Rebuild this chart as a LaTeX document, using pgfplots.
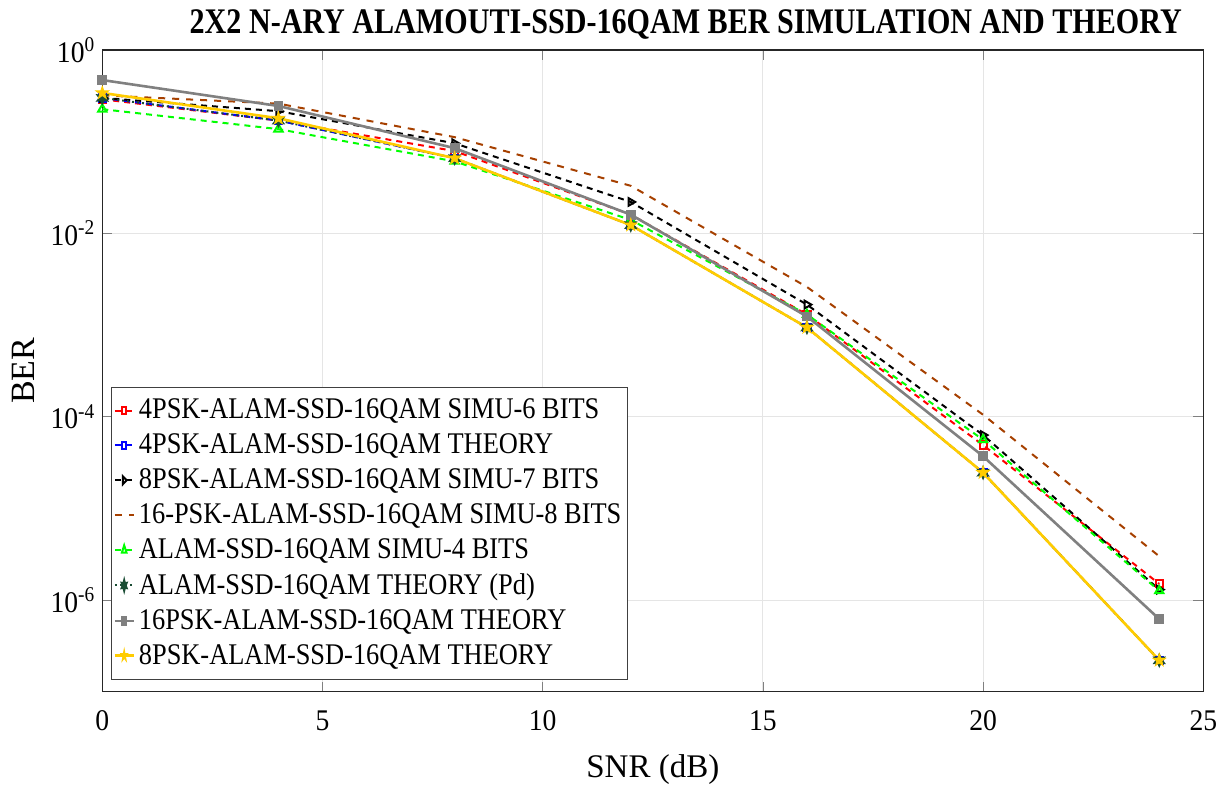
\documentclass[border=0pt]{standalone}
\usepackage{pgfplots}
\pgfplotsset{compat=1.18}
\usepackage{fontspec}
\setmainfont{Liberation Serif}
\newfontfamily\titlefont[FakeStretch=0.836]{Liberation Serif}
\newfontfamily\legfont[FakeStretch=0.88]{Liberation Serif}
\newfontfamily\tickfont[FakeStretch=0.92]{Liberation Serif}
\usetikzlibrary{plotmarks}
\definecolor{mbrown}{rgb}{0.65,0.25,0.0}
\definecolor{mgold}{rgb}{1.0,0.80,0.0}
\definecolor{mdkgreen}{rgb}{0.10,0.30,0.20}
\definecolor{mgray}{rgb}{0.50,0.50,0.50}
\pgfdeclareplotmark{fstar}{%
  \pgfpathmoveto{\pgfpointpolar{90}{1.3\pgfplotmarksize}}%
  \pgfpathlineto{\pgfpointpolar{126}{0.5\pgfplotmarksize}}%
  \pgfpathlineto{\pgfpointpolar{162}{1.3\pgfplotmarksize}}%
  \pgfpathlineto{\pgfpointpolar{198}{0.5\pgfplotmarksize}}%
  \pgfpathlineto{\pgfpointpolar{234}{1.3\pgfplotmarksize}}%
  \pgfpathlineto{\pgfpointpolar{270}{0.5\pgfplotmarksize}}%
  \pgfpathlineto{\pgfpointpolar{306}{1.3\pgfplotmarksize}}%
  \pgfpathlineto{\pgfpointpolar{342}{0.5\pgfplotmarksize}}%
  \pgfpathlineto{\pgfpointpolar{18}{1.3\pgfplotmarksize}}%
  \pgfpathlineto{\pgfpointpolar{54}{0.5\pgfplotmarksize}}%
  \pgfpathclose\pgfusepathqfillstroke}
\pgfdeclareplotmark{hexa}{%
  \pgfpathmoveto{\pgfpointpolar{90}{1.2\pgfplotmarksize}}%
  \pgfpathlineto{\pgfpointpolar{120}{0.6\pgfplotmarksize}}%
  \pgfpathlineto{\pgfpointpolar{150}{1.2\pgfplotmarksize}}%
  \pgfpathlineto{\pgfpointpolar{180}{0.6\pgfplotmarksize}}%
  \pgfpathlineto{\pgfpointpolar{210}{1.2\pgfplotmarksize}}%
  \pgfpathlineto{\pgfpointpolar{240}{0.6\pgfplotmarksize}}%
  \pgfpathlineto{\pgfpointpolar{270}{1.2\pgfplotmarksize}}%
  \pgfpathlineto{\pgfpointpolar{300}{0.6\pgfplotmarksize}}%
  \pgfpathlineto{\pgfpointpolar{330}{1.2\pgfplotmarksize}}%
  \pgfpathlineto{\pgfpointpolar{0}{0.6\pgfplotmarksize}}%
  \pgfpathlineto{\pgfpointpolar{30}{1.2\pgfplotmarksize}}%
  \pgfpathlineto{\pgfpointpolar{60}{0.6\pgfplotmarksize}}%
  \pgfpathclose\pgfusepathqfillstroke}
\begin{document}
\begin{tikzpicture}
\begin{semilogyaxis}[
  name=ax, at={(0,0)}, anchor=south west,
  scale only axis,
  width=550.5pt, height=320.85pt,
  xmin=0, xmax=25, ymin=1e-7, ymax=1,
  xtick={0,5,10,15,20,25},
  ytick={1,1e-2,1e-4,1e-6},
  yticklabels={10\textsuperscript{0},10\textsuperscript{-2},10\textsuperscript{-4},10\textsuperscript{-6}},
  minor ytick={},
  /pgf/number format/assume math mode=true,
  tick label style={font=\tickfont\fontsize{15}{17}\selectfont},
  xticklabel style={yshift=-6pt},
  tick align=inside,
  major tick length=5pt,
  grid=major,
  major grid style={gray!20, line width=0.5pt},
  axis line style={black!85, line width=0.6pt},
  title={\titlefont\fontsize{18}{20}\selectfont\bfseries 2X2 N-ARY ALAMOUTI-SSD-16QAM BER SIMULATION AND THEORY},
  title style={yshift=-4pt, xshift=16.5pt},
  xlabel={SNR (dB)},
  ylabel={BER},
  xlabel style={font=\fontsize{16.5}{18}\selectfont, yshift=-5pt},
  ylabel style={font=\fontsize{17}{18}\selectfont, yshift=1pt},
  legend cell align=left,
  legend style={at={(0.0079,0.0187)}, anchor=south west, draw=black!75, line width=0.5pt,
    font=\legfont\fontsize{15}{18}\selectfont, row sep=2pt, inner xsep=1pt, inner ysep=4pt},
  legend image post style={xscale=0.55},
]
\addplot[red, line width=1pt, dash pattern=on 3pt off 2.5pt, mark=square, mark size=1.8pt, mark options={solid}] coordinates {
(0,0.29) (4,0.17) (8,0.079) (12,0.016) (16,1.3e-3) (20,4.9e-5) (24,1.5e-6)};
\addlegendentry{4PSK-ALAM-SSD-16QAM SIMU-6 BITS}
\addplot[blue, line width=1pt, dash pattern=on 3pt off 2.5pt, mark=square, mark size=1.8pt, mark options={solid}] coordinates {
(0,0.30) (4,0.17) (8,0.066) (12,0.0123) (16,9.4e-4) (20,2.45e-5) (24,2.2e-7)};
\addlegendentry{4PSK-ALAM-SSD-16QAM THEORY}
\addplot[black, line width=1pt, dash pattern=on 3pt off 2.5pt, mark=triangle, mark size=2.2pt, mark options={solid, rotate=-90}] coordinates {
(0,0.30) (4,0.215) (8,0.096) (12,0.022) (16,1.67e-3) (20,6.3e-5) (24,1.3e-6)};
\addlegendentry{8PSK-ALAM-SSD-16QAM SIMU-7 BITS}
\addplot[mbrown, line width=1pt, dash pattern=on 3.5pt off 3.5pt] coordinates {
(0,0.32) (4,0.26) (8,0.112) (12,0.033) (16,2.6e-3) (20,1.05e-4) (24,3.0e-6)};
\addlegendentry{16-PSK-ALAM-SSD-16QAM SIMU-8 BITS}
\addplot[green, line width=1pt, dash pattern=on 3pt off 2.5pt, mark=triangle, mark size=2.4pt, mark options={solid}] coordinates {
(0,0.226) (4,0.137) (8,0.061) (12,0.014) (16,1.3e-3) (20,5.6e-5) (24,1.26e-6)};
\addlegendentry{ALAM-SSD-16QAM SIMU-4 BITS}
\addplot[mdkgreen, line width=1pt, dash pattern=on 1pt off 1.5pt, mark=hexa, mark size=2.2pt, mark options={solid, fill=mdkgreen}] coordinates {
(0,0.30) (4,0.17) (8,0.066) (12,0.0123) (16,9.4e-4) (20,2.45e-5) (24,2.2e-7)};
\addlegendentry{ALAM-SSD-16QAM THEORY (Pd)}
\addplot[mgray, line width=1.3pt, mark=square*, mark size=1.8pt, mark options={fill=mgray}] coordinates {
(0,0.47) (4,0.245) (8,0.085) (12,0.016) (16,1.24e-3) (20,3.7e-5) (24,6.2e-7)};
\addlegendentry{16PSK-ALAM-SSD-16QAM THEORY}
\addplot[mgold, line width=1.3pt, mark=fstar, mark size=2.6pt, mark options={fill=mgold, line width=0.4pt}] coordinates {
(0,0.34) (4,0.18) (8,0.066) (12,0.0123) (16,9.4e-4) (20,2.45e-5) (24,2.2e-7)};
\addlegendentry{8PSK-ALAM-SSD-16QAM THEORY}
\end{semilogyaxis}
\pgfresetboundingbox
\path (-51.15pt,-46.65pt) rectangle (562.85pt,345.85pt);
\end{tikzpicture}
\end{document}
